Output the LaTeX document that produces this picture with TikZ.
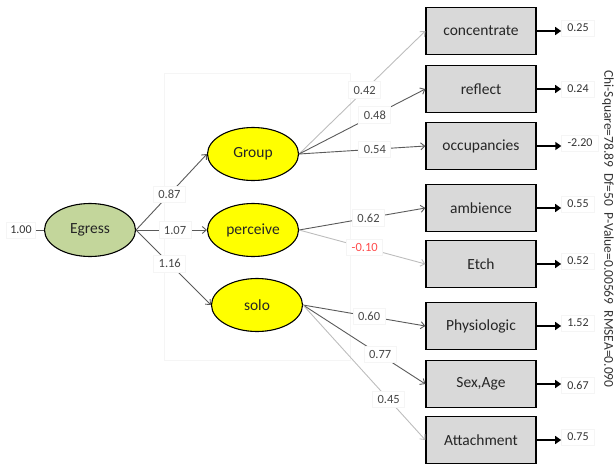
\documentclass[tikz,border=0pt]{standalone}
\usepackage{fontspec}
\setmainfont{Carlito}
\usetikzlibrary{arrows.meta,shapes.geometric}
\definecolor{darkln}{HTML}{5A5A5A}
\definecolor{lightln}{HTML}{BDBDBD}
\definecolor{latentfill}{HTML}{FFFF00}
\definecolor{rootfill}{HTML}{C3D69B}
\definecolor{boxfill}{HTML}{D9D9D9}
\definecolor{negred}{HTML}{FF4B4B}
\begin{document}
\begin{tikzpicture}[x=1pt,y=-1pt,
  latent/.style={ellipse,draw=black,line width=1.1pt,fill=latentfill,
    minimum width=91pt,minimum height=53pt,inner sep=0pt,font=\fontsize{15.5}{17}\selectfont,text=black!85},
  observed/.style={rectangle,draw=black,line width=1.3pt,fill=boxfill,
    minimum width=110pt,minimum height=47pt,inner sep=0pt,font=\fontsize{15.5}{17}\selectfont,text=black!85},
  coef/.style={fill=white,draw=black!4,inner xsep=5pt,inner ysep=4pt,
    font=\fontsize{12.5}{14}\selectfont,text=black!72},
  resid/.style={fill=white,draw=black!4,inner xsep=6pt,inner ysep=4pt,
    font=\fontsize{12}{13}\selectfont,text=black!80},
  darkpath/.style={draw=darkln,line width=0.9pt,-{Straight Barb[length=4pt,width=7pt]}},
  lightpath/.style={draw=lightln,line width=0.9pt,-{Straight Barb[length=4pt,width=7pt]}},
  outpath/.style={draw=black,line width=1.6pt,-{Triangle[length=6pt,width=8pt]}}]
\useasboundingbox (0,0) rectangle (614,466);

% faint frame of the plot area
\draw[black!4,line width=0.6pt] (164,73) rectangle (350,360);

% latent variables
\node[latent,fill=rootfill] (egress) at (90,230) {Egress};
\node[latent] (group) at (253,154) {Group};
\node[latent] (perceive) at (253,230) {perceive};
\node[latent] (solo) at (257,305) {solo};

% indicators
\node[observed] (conc) at (481,31) {concentrate};
\node[observed] (refl) at (481,89) {reflect};
\node[observed] (occ) at (481,146) {occupancies};
\node[observed] (amb) at (481,208) {ambience};
\node[observed] (etch) at (481,264) {Etch};
\node[observed] (phys) at (481,326) {Physiologic};
\node[observed] (sex) at (481,384) {Sex,Age};
\node[observed] (att) at (481,440) {Attachment};

% variance of the root factor
\node[resid,inner xsep=4pt] (rootvar) at (21,230) {1.00};
\draw[darkln,line width=0.9pt] (rootvar.east) -- (egress.west);

% second-order loadings
\draw[darkpath] (egress.east) -- node[coef,pos=0.47] {0.87} (group.west);
\draw[darkpath] (egress.east) -- node[coef,pos=0.55] {1.07} (perceive.west);
\draw[darkpath] (egress.east) -- node[coef,pos=0.45] {1.16} (solo.west);

% first-order loadings
\draw[lightpath] (group.east) -- node[coef,pos=0.52] {0.42} (conc.west);
\draw[darkpath] (group.east) -- node[coef,pos=0.6] {0.48} (refl.west);
\draw[darkpath] (group.east) -- node[coef,pos=0.6] {0.54} (occ.west);
\draw[darkpath] (perceive.east) -- node[coef,pos=0.55] {0.62} (amb.west);
\draw[lightpath] (perceive.east) -- node[coef,pos=0.52,text=negred] {-0.10} (etch.west);
\draw[darkpath] (solo.east) -- node[coef,pos=0.54] {0.60} (phys.west);
\draw[darkpath] (solo.east) -- node[coef,pos=0.63] {0.77} (sex.west);
\draw[lightpath] (solo.east) -- node[coef,pos=0.7] {0.45} (att.west);

% error variances
\node[resid] (e1) at (578,28) {0.25};
\node[resid] (e2) at (578,89) {0.24};
\node[resid] (e3) at (580,143) {-2.20};
\node[resid] (e4) at (578,204) {0.55};
\node[resid] (e5) at (578,261) {0.52};
\node[resid] (e6) at (578,323) {1.52};
\node[resid] (e7) at (578,385) {0.67};
\node[resid] (e8) at (578,437) {0.75};
\foreach \b/\e in {conc/e1,refl/e2,occ/e3,amb/e4,etch/e5,phys/e6,sex/e7,att/e8}
  \draw[outpath] (\b.east) -- (\b.east -| \e.west);

% fit statistics
\node[rotate=-90,font=\fontsize{13.5}{15}\selectfont,text=black!80,inner sep=0pt] (fit) at (608,229)
  {Chi-Square=78.89\ \ Df=50\ \ P-Value=0.00569\ \ RMSEA=0.090};
\end{tikzpicture}
\end{document}
